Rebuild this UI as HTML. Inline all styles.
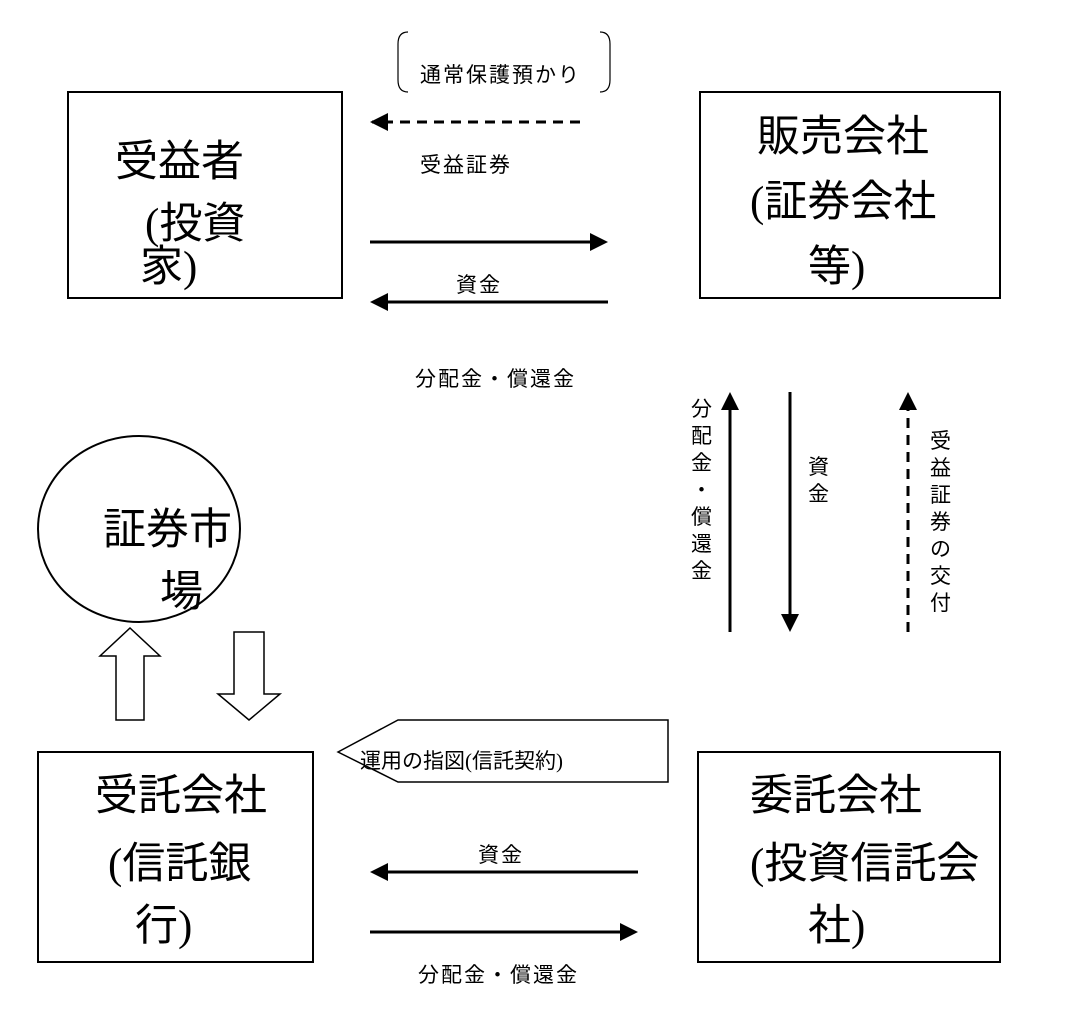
<!DOCTYPE html>
<html><head><meta charset="utf-8"><style>
html,body{margin:0;padding:0;background:#fff;}
svg{display:block;font-family:"Liberation Serif","Noto Sans CJK JP",serif;}
.b{font-size:43px;}
.s{font-size:21px;letter-spacing:2px;}
.v{font-size:21px;}
</style></head><body>
<svg width="1086" height="1016" viewBox="0 0 1086 1016" xmlns="http://www.w3.org/2000/svg">
<g fill="none" stroke="#000" stroke-width="2">
<rect x="68" y="92" width="274" height="206"/>
<rect x="700" y="92" width="300" height="206"/>
<rect x="38" y="752" width="275" height="210"/>
<rect x="698" y="752" width="302" height="210"/>
<ellipse cx="139" cy="529" rx="101" ry="93"/>
<path d="M116,720 L116,656 L100,656 L130,628 L160,656 L144,656 L144,720Z" stroke-width="1.5"/>
<path d="M234,632 L264,632 L264,694 L280,694 L249,720 L218,694 L234,694Z" stroke-width="1.5"/>
<path d="M338,752 L398,720 L668,720 L668,782 L398,782Z" stroke-width="1.5"/>
<path d="M408,32 Q398,32 398,44 L398,80 Q398,92 408,92" stroke-width="1.2"/>
<path d="M600,32 Q610,32 610,44 L610,80 Q610,92 600,92" stroke-width="1.2"/>
</g>
<g stroke="#000" stroke-width="3" fill="none">
<line x1="580" y1="122" x2="372" y2="122" stroke-dasharray="10,7"/>
<path d="M388,113 L370,122 L388,131Z" fill="#000" stroke="none"/>
<line x1="370" y1="242" x2="592" y2="242"/>
<path d="M590,233 L608,242 L590,251Z" fill="#000" stroke="none"/>
<line x1="608" y1="302" x2="386" y2="302"/>
<path d="M388,293 L370,302 L388,311Z" fill="#000" stroke="none"/>
<line x1="730" y1="632" x2="730" y2="408"/>
<path d="M721,410 L730,392 L739,410Z" fill="#000" stroke="none"/>
<line x1="790" y1="392" x2="790" y2="616"/>
<path d="M781,614 L790,632 L799,614Z" fill="#000" stroke="none"/>
<line x1="908" y1="632" x2="908" y2="410" stroke-dasharray="10,7"/>
<path d="M899,410 L908,392 L917,410Z" fill="#000" stroke="none"/>
<line x1="638" y1="872" x2="386" y2="872"/>
<path d="M388,863 L370,872 L388,881Z" fill="#000" stroke="none"/>
<line x1="370" y1="932" x2="622" y2="932"/>
<path d="M620,923 L638,932 L620,941Z" fill="#000" stroke="none"/>
</g>
<g fill="#000">
<text class="b" x="115" y="176">受益者</text>
<text class="b" x="145" y="238">(投資</text>
<text class="b" x="140" y="281">家)</text>
<text class="b" x="757" y="151">販売会社</text>
<text class="b" x="750" y="216">(証券会社</text>
<text class="b" x="808" y="281">等)</text>
<text class="b" x="95" y="810">受託会社</text>
<text class="b" x="108" y="878">(信託銀</text>
<text class="b" x="135" y="940">行)</text>
<text class="b" x="750" y="810">委託会社</text>
<text class="b" x="750" y="878">(投資信託会</text>
<text class="b" x="808" y="940">社)</text>
<text class="b" x="103" y="544">証券市</text>
<text class="b" x="160" y="606">場</text>
<text class="s" x="420" y="82">通常保護預かり</text>
<text class="s" x="420" y="172">受益証券</text>
<text class="s" x="456" y="292">資金</text>
<text class="s" x="415" y="386">分配金・償還金</text>
<text class="s" x="360" y="768" style="letter-spacing:0">運用の指図(信託契約)</text>
<text class="s" x="478" y="862">資金</text>
<text class="s" x="418" y="982">分配金・償還金</text>
<g class="v">
<text x="691" y="416">分</text><text x="691" y="443">配</text><text x="691" y="470">金</text><text x="691" y="497">・</text><text x="691" y="524">償</text><text x="691" y="551">還</text><text x="691" y="578">金</text>
<text x="808" y="474">資</text><text x="808" y="501">金</text>
<text x="930" y="448">受</text><text x="930" y="475">益</text><text x="930" y="502">証</text><text x="930" y="529">券</text><text x="930" y="556">の</text><text x="930" y="583">交</text><text x="930" y="610">付</text>
</g>
</g>
</svg>
</body></html>
